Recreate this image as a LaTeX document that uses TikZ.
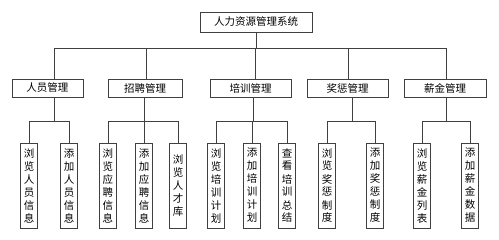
\documentclass[tikz,border=0pt]{standalone}
\usepackage{fontspec}
\newfontfamily\cjk{Noto Sans CJK SC}
\usetikzlibrary{positioning}

\begin{document}
\begin{tikzpicture}[x=1pt, y=-1pt,
    box/.style={rectangle, draw=black!75, line width=0.7pt, inner sep=0pt,
                font=\cjk\fontsize{10.5}{12}\selectfont},
    mid/.style={box, minimum height=18pt},
    leaf/.style={box, minimum width=17pt, minimum height=85pt, align=center,
                 font=\cjk\fontsize{10.5}{13}\selectfont},
    link/.style={draw=black!75, line width=0.7pt}
]
    \useasboundingbox (0,0) rectangle (499,239);
    % root
    \node[box, minimum width=112pt, minimum height=20pt] (hr) at (256,22) {人力资源管理系统};
    % modules
    \node[mid, minimum width=71pt] (ry) at (47.5,88) {人员管理};
    \node[mid, minimum width=74pt] (zp) at (145,88) {招聘管理};
    \node[mid, minimum width=81pt] (px) at (250.5,88) {培训管理};
    \node[mid, minimum width=81pt] (jc) at (347.5,88) {奖惩管理};
    \node[mid, minimum width=82pt] (xj) at (445,88) {薪金管理};
    % leaves
    \node[leaf] (ry1) at (29,185.5) {浏\\览\\人\\员\\信\\息};
    \node[leaf] (ry2) at (69,185.5) {添\\加\\人\\员\\信\\息};
    \node[leaf] (zp1) at (108,185.5) {浏\\览\\应\\聘\\信\\息};
    \node[leaf] (zp2) at (144,185.5) {添\\加\\应\\聘\\信\\息};
    \node[leaf] (zp3) at (178,185.5) {浏\\览\\人\\才\\库};
    \node[leaf] (px1) at (216,185.5) {浏\\览\\培\\训\\计\\划};
    \node[leaf] (px2) at (252,185.5) {添\\加\\培\\训\\计\\划};
    \node[leaf] (px3) at (287,185.5) {查\\看\\培\\训\\总\\结};
    \node[leaf] (jc1) at (327,185.5) {浏\\览\\奖\\惩\\制\\度};
    \node[leaf] (jc2) at (375,185.5) {添\\加\\奖\\惩\\制\\度};
    \node[leaf] (xj1) at (422,185.5) {浏\\览\\薪\\金\\列\\表};
    \node[leaf] (xj2) at (470,185.5) {添\\加\\薪\\金\\数\\据};

    % root to modules
    \coordinate (hrbus) at (hr.south |- 0,48);
    \draw[link] (hr.south) -- (hrbus);
    \foreach \m/\x in {ry/54, zp/146.5, px/255, jc/348, xj/446}
        \draw[link] (hrbus) -| (\m.north -| \x,0);

    % modules to leaves
    \coordinate (rybus) at (54,121);
    \coordinate (zpbus) at (144,121);
    \coordinate (pxbus) at (253,121);
    \coordinate (jcbus) at (352,121);
    \coordinate (xjbus) at (446,121);
    \foreach \m in {ry,zp,px,jc,xj}
        \draw[link] (\m.south -| \m bus) -- (\m bus);
    \foreach \m/\l in {ry/ry1, ry/ry2, zp/zp1, zp/zp2, zp/zp3, px/px1, px/px2, px/px3,
                       jc/jc1, jc/jc2, xj/xj1, xj/xj2}
        \draw[link] (\m bus) -| (\l.north);
\end{tikzpicture}
\end{document}
